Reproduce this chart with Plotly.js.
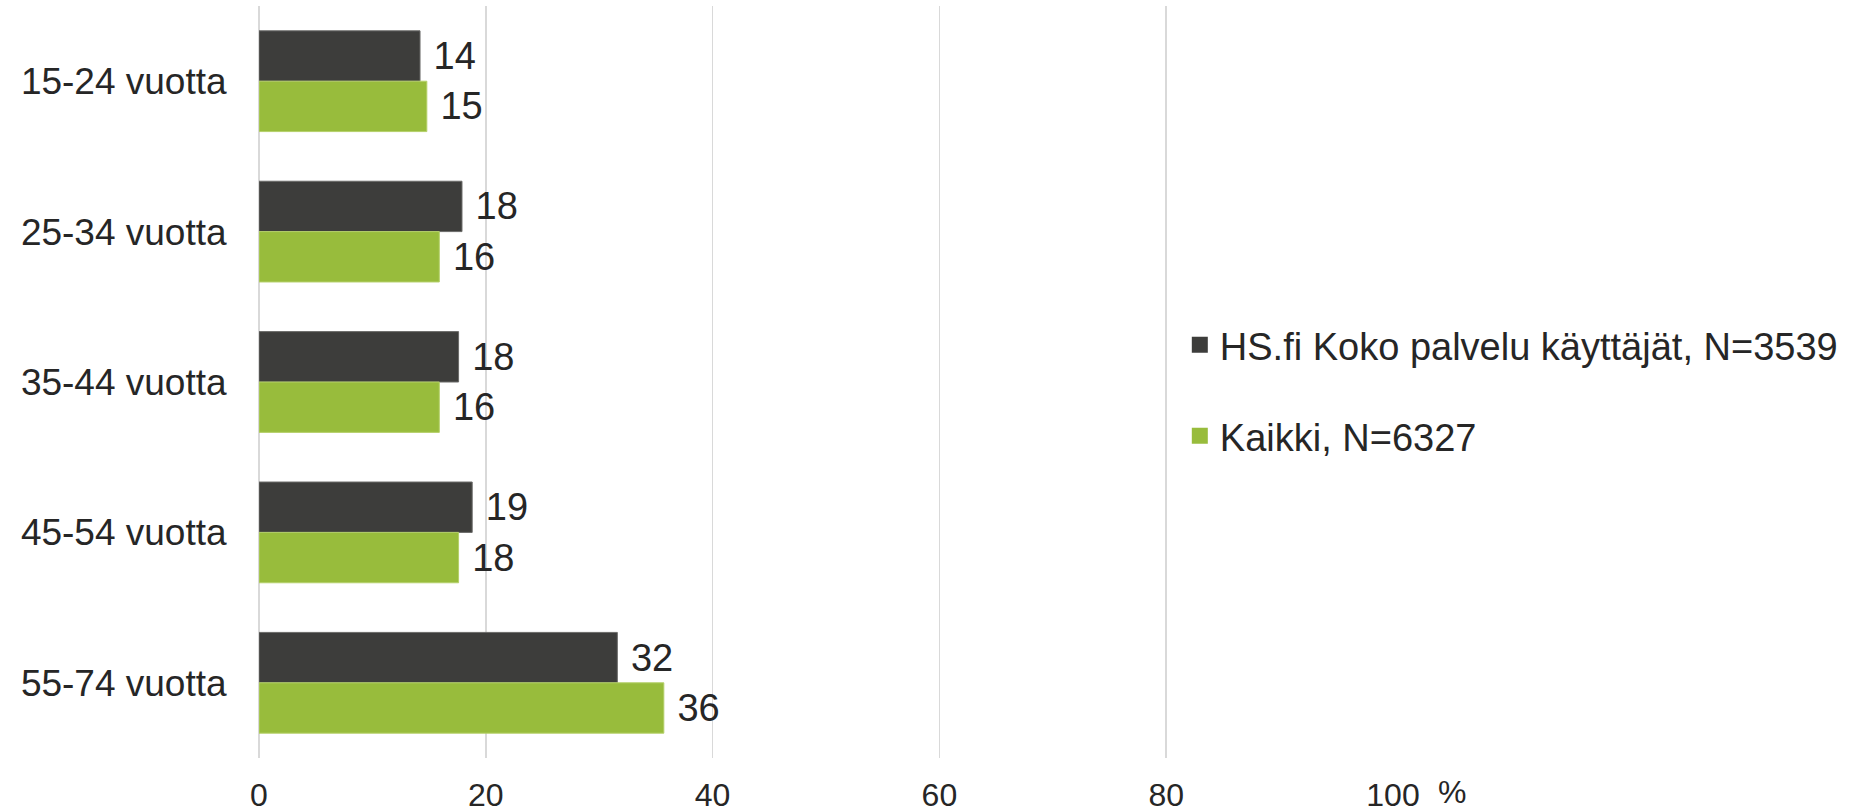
<!DOCTYPE html>
<html>
<head>
<meta charset="utf-8">
<script src="https://cdn.plot.ly/plotly-3.0.1.min.js"></script>
<style>html,body{margin:0;padding:0;background:#fff;}#chart{width:1863px;height:812px;}</style>
</head>
<body>
<div id="chart"></div>
<script>
const categories = ['15-24 vuotta', '25-34 vuotta', '35-44 vuotta', '45-54 vuotta', '55-74 vuotta'];
const hsValues = [14.2, 17.9, 17.6, 18.8, 31.6];
const allValues = [14.8, 15.9, 15.9, 17.6, 35.7];
const seriesNames = ['HS.fi Koko palvelu käyttäjät, N=3539', 'Kaikki, N=6327'];
const seriesColors = ['#3d3d3b', '#98bc3c'];
const xTicks = [0, 20, 40, 60, 80, 100];

const FONT = 'Liberation Sans, Arial, sans-serif';
const TXT = '#262626';

const traces = [
  {
    type: 'bar', orientation: 'h', name: seriesNames[0], showlegend: false,
    y: categories, x: hsValues,
    marker: {color: seriesColors[0], line: {color: '#6b6b69', width: 1}},
    text: hsValues.map(v => '\u00a0' + Math.round(v)),
    textposition: 'outside', cliponaxis: false,
    textfont: {family: FONT, size: 38, color: TXT},
    hoverinfo: 'skip'
  },
  {
    type: 'bar', orientation: 'h', name: seriesNames[1], showlegend: false,
    y: categories, x: allValues,
    marker: {color: seriesColors[1], line: {color: '#b5d06a', width: 1}},
    text: allValues.map(v => '\u00a0' + Math.round(v)),
    textposition: 'outside', cliponaxis: false,
    textfont: {family: FONT, size: 38, color: TXT},
    hoverinfo: 'skip'
  },
  {
    type: 'scatter', mode: 'markers', name: seriesNames[0], x: [null], y: [null],
    marker: {symbol: 'square', size: 18, color: seriesColors[0]},
    legend: 'legend', showlegend: true, hoverinfo: 'skip'
  },
  {
    type: 'scatter', mode: 'markers', name: seriesNames[1], x: [null], y: [null],
    marker: {symbol: 'square', size: 18, color: seriesColors[1]},
    legend: 'legend2', showlegend: true, hoverinfo: 'skip'
  }
];

const layout = {
  width: 1863, height: 812,
  margin: {l: 259, r: 470, t: 6, b: 54},
  paper_bgcolor: '#ffffff', plot_bgcolor: '#ffffff',
  font: {family: FONT, color: TXT},
  barmode: 'group', bargap: 0.33, bargroupgap: 0,
  showlegend: true,
  xaxis: {
    range: [0, 100], tickvals: xTicks, ticktext: xTicks.map(String),
    showgrid: true, gridcolor: '#d9d9d9', gridwidth: 1.5,
    zeroline: true, zerolinecolor: '#d9d9d9', zerolinewidth: 1.5,
    showline: false, ticks: 'outside', ticklen: 9, tickcolor: 'rgba(0,0,0,0)',
    tickfont: {family: FONT, size: 32, color: TXT}, fixedrange: true
  },
  yaxis: {
    autorange: 'reversed', showgrid: false, zeroline: false, showline: false,
    ticks: 'outside', ticklen: 24, tickcolor: 'rgba(0,0,0,0)',
    tickfont: {family: FONT, size: 37, color: TXT}, fixedrange: true
  },
  legend: {
    x: 0.812, y: 0.549, xanchor: 'left', yanchor: 'middle',
    bgcolor: 'rgba(0,0,0,0)', font: {family: FONT, size: 38, color: TXT},
    itemclick: false, itemdoubleclick: false
  },
  legend2: {
    x: 0.812, y: 0.428, xanchor: 'left', yanchor: 'middle',
    bgcolor: 'rgba(0,0,0,0)', font: {family: FONT, size: 38, color: TXT},
    itemclick: false, itemdoubleclick: false
  },
  annotations: [
    {xref: 'paper', yref: 'paper', x: 1.052, y: -0.045, xanchor: 'center', yanchor: 'middle',
     text: '%', showarrow: false, font: {family: FONT, size: 32, color: TXT}}
  ]
};

Plotly.newPlot('chart', traces, layout, {displayModeBar: false, staticPlot: true});
</script>
</body>
</html>
